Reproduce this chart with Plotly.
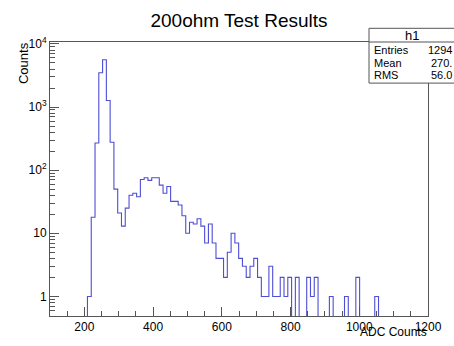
import plotly.graph_objects as go

# ---- data ----
bin_low = [198, 209, 220, 231, 242, 253, 264, 275, 286, 297, 308, 319, 330, 341, 352,
           363, 374, 385, 396, 407, 418, 429, 440, 451, 462, 473, 484, 495, 506, 517,
           528, 539, 550, 561, 572, 583, 594, 605, 616, 627, 638, 649, 660, 671, 682,
           693, 704, 715, 726, 737, 748, 759, 770, 781, 792, 803, 814, 825, 836, 847,
           858, 869, 880, 891, 902, 913, 924, 935, 946, 957, 968, 979, 990, 1001, 1012,
           1023, 1034, 1045, 1056]
counts = [0, 1, 18, 270, 3500, 5600, 1270, 277, 50, 21, 13, 25, 40, 43, 38,
          71, 76, 69, 76, 76, 58, 43, 55, 32, 32, 28, 19, 10, 15, 14,
          17, 13, 7, 14, 7, 4, 4, 2, 5, 10, 7, 4, 3, 2, 3,
          4, 2, 1, 1, 3, 1, 1, 2, 1, 2, 0, 2, 0, 0, 2,
          1, 2, 0, 0, 0, 1, 0, 0, 0, 1, 0, 0, 2, 0, 0,
          0, 0, 1, 0]
bin_width = 11
x_tick_vals = [200, 400, 600, 800, 1000, 1200]
y_tick_vals = [1, 10, 100, 1000, 10000]
y_tick_text = ["1", "10", "10<sup>2</sup>", "10<sup>3</sup>", "10<sup>4</sup>"]
stats_names = ["Entries", "Mean", "RMS"]
stats_values = ["1294", "270.", "56.0"]

# ---- build step outline ----
FLOOR = 0.1  # empty bins drop below the frame (log scale), as ROOT draws them
xs = list(bin_low) + [bin_low[-1] + bin_width]
ys = [c if c > 0 else FLOOR for c in counts]
ys = ys + [ys[-1]]

FONT = "Liberation Sans, Arial, Helvetica, sans-serif"
W, H = 454, 346
L, R, T, B = 50, 428, 42, 322


def px(xp):
    return (xp - L) / (R - L)


def py(yp):
    return (B - yp) / (B - T)


fig = go.Figure()
fig.add_trace(go.Scatter(x=xs, y=ys, mode="lines", line=dict(shape="hv", color="#4e4ed6", width=1.1),
                         hoverinfo="skip", showlegend=False))

minor_y = []
for d in [1, 10, 100, 1000]:
    for k in range(2, 10):
        minor_y.append(k * d)
minor_y = [0.6, 0.7, 0.8, 0.9] + minor_y

axis_col = "#555555"
fig.update_layout(
    width=W, height=H, autosize=False,
    margin=dict(l=L, r=W - R, t=T, b=H - B),
    paper_bgcolor="white", plot_bgcolor="white",
    font=dict(family=FONT, size=12, color="black"),
    title=dict(text="200ohm Test Results", x=0.5, xref="paper", xanchor="center",
               y=1 - 20 / H, yref="container", yanchor="middle",
               font=dict(family=FONT, size=19, color="black")),
    xaxis=dict(range=[100, 1200], tickvals=x_tick_vals, ticks="inside", ticklen=9, tickwidth=1,
               tickcolor=axis_col, showline=True, linecolor=axis_col, linewidth=1, mirror=True,
               showgrid=False, zeroline=False, tickfont=dict(size=12),
               minor=dict(dtick=50, tick0=0, ticks="inside", ticklen=5, tickcolor=axis_col, showgrid=False)),
    yaxis=dict(type="log", range=[-0.31, 4.03], tickvals=y_tick_vals, ticktext=y_tick_text,
               ticks="inside", ticklen=9, tickwidth=1, tickcolor=axis_col,
               showline=True, linecolor=axis_col, linewidth=1, mirror=True,
               showgrid=False, zeroline=False, tickfont=dict(size=12),
               minor=dict(tickmode="array", tickvals=minor_y, ticks="inside", ticklen=5,
                          tickcolor=axis_col, showgrid=False)),
)

# axis titles
fig.add_annotation(text="ADC Counts", x=1.0, y=py(347), xref="paper", yref="paper",
                   xanchor="right", yanchor="bottom", showarrow=False, font=dict(size=12),
                   borderpad=0)
fig.add_annotation(text="Counts", x=px(23), y=py(40), xref="paper", yref="paper", textangle=-90,
                   xanchor="center", yanchor="top", showarrow=False, font=dict(size=13))

# stats box
fig.add_shape(type="rect", xref="paper", yref="paper", x0=px(369), x1=px(470), y0=py(84), y1=py(28),
              line=dict(color=axis_col, width=1), fillcolor="white", layer="above")
fig.add_shape(type="line", xref="paper", yref="paper", x0=px(369), x1=px(470), y0=py(42), y1=py(42),
              line=dict(color=axis_col, width=1), layer="above")
fig.add_annotation(text="h1", x=px(412), y=py(35), xref="paper", yref="paper", xanchor="center",
                   yanchor="middle", showarrow=False, font=dict(size=13))
for i, (n, v) in enumerate(zip(stats_names, stats_values)):
    yy = py(50 + 13 * i)
    fig.add_annotation(text=n, x=px(372), y=yy, xref="paper", yref="paper", xanchor="left",
                       yanchor="middle", showarrow=False, font=dict(size=11))
    fig.add_annotation(text=v, x=px(454), y=yy, xref="paper", yref="paper", xanchor="right",
                       yanchor="middle", showarrow=False, font=dict(size=11))

fig.write_html("out.html", config={"displayModeBar": False},
               post_script="document.body.style.margin='0';document.body.style.overflow='hidden';")
